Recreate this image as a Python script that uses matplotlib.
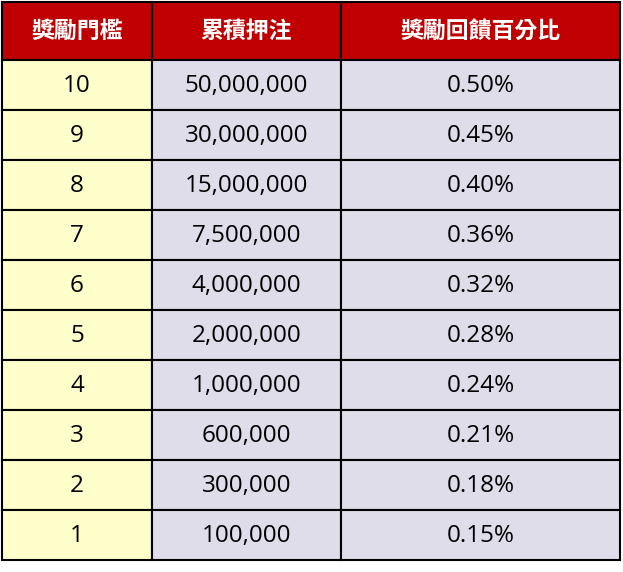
import matplotlib
matplotlib.use("Agg")
import matplotlib.pyplot as plt
from matplotlib.patches import Rectangle

plt.rcParams['font.family'] = ['Noto Sans CJK TC', 'DejaVu Sans']

headers = ["獎勵門檻", "累積押注", "獎勵回饋百分比"]
levels = ["10", "9", "8", "7", "6", "5", "4", "3", "2", "1"]
bets = ["50,000,000", "30,000,000", "15,000,000", "7,500,000", "4,000,000",
        "2,000,000", "1,000,000", "600,000", "300,000", "100,000"]
pcts = ["0.50%", "0.45%", "0.40%", "0.36%", "0.32%", "0.28%", "0.24%",
        "0.21%", "0.18%", "0.15%"]

W, H = 623, 572
fig = plt.figure(figsize=(W/100, H/100), dpi=100)
ax = fig.add_axes([0, 0, 1, 1])
ax.set_xlim(0, W); ax.set_ylim(H, 0); ax.axis('off')

cols = [2, 152, 341, 620]
top, hh, rh = 2, 58, 50
fills = ["#FFFFCC", "#E0DDEB", "#E0DDEB"]

for c in range(3):
    x0, x1 = cols[c], cols[c+1]
    ax.add_patch(Rectangle((x0, top), x1-x0, hh, facecolor="#C00000", edgecolor="black", lw=1.5))
    ax.text((x0+x1)/2, top+hh/2, headers[c], color="white", fontsize=16.5, fontweight='bold',
            ha='center', va='center')
    vals = [levels, bets, pcts][c]
    for r, v in enumerate(vals):
        y0 = top + hh + r*rh
        ax.add_patch(Rectangle((x0, y0), x1-x0, rh, facecolor=fills[c], edgecolor="black", lw=1.5))
        ax.text((x0+x1)/2, y0+rh/2+1, v, color="black", fontsize=17.5, ha='center', va='center',
                family=['Open Sans', 'DejaVu Sans'])

fig.savefig("out.png", dpi=100)
